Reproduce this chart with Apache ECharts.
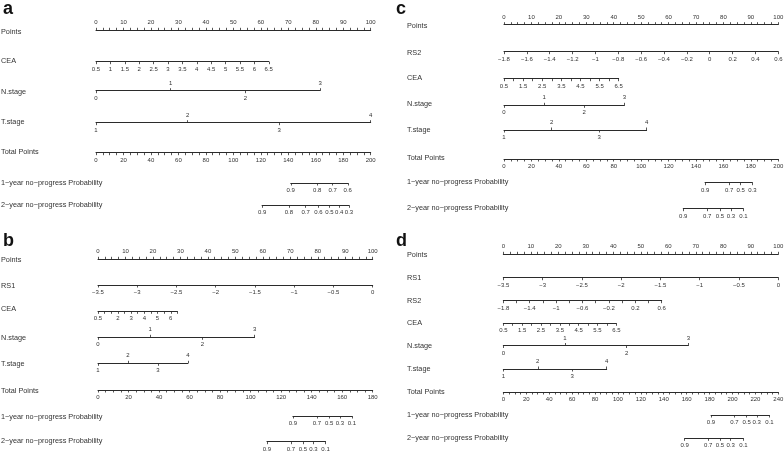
<!DOCTYPE html>
<html><head><meta charset="utf-8">
<script src="https://cdn.jsdelivr.net/npm/echarts@6/dist/echarts.min.js"></script>
<style>html,body{margin:0;padding:0;background:#fff}#c{width:784px;height:454px}</style>
</head><body><div id="c"></div>
<script>
// ---------------- DATA ----------------
const pointsLabels = [0,10,20,30,40,50,60,70,80,90,100];
const ceaTicks = [0.5,1,1.5,2,2.5,3,3.5,4,4.5,5,5.5,6,6.5];
const rs1Labels = [-3.5,-3,-2.5,-2,-1.5,-1,-0.5,0];
const rs2Ticks = [-1.8,-1.6,-1.4,-1.2,-1,-0.8,-0.6,-0.4,-0.2,0,0.2,0.4,0.6];
const nStageBelow = [0,2], nStageAbove = [1,3];
const tStageBelow = [1,3], tStageAbove = [2,4];

// panel a
const aCEALabels = [0.5,1,1.5,2,2.5,3,3.5,4,4.5,5,5.5,6,6.5];
const aCEASpan = [0, 62.9];          // points at CEA 0.5 and 6.5
const aNStageSpan = [0, 81.6];       // points at N.stage 0 and 3
const aTStageSpan = [0, 100];        // points at T.stage 1 and 4
const aTotalLabels = [0,20,40,60,80,100,120,140,160,180,200];
const aYear1Prob = [0.9,0.8,0.7,0.6];
const aYear1Total = [141.8,161.1,172.3,183.3];
const aYear2Prob = [0.9,0.8,0.7,0.6,0.5,0.4,0.3];
const aYear2Total = [120.9,140.4,152.6,161.9,169.9,177.1,184.2];

// panel b
const bRS1Span = [0, 100];
const bCEALabels = [0.5,2,3,4,5,6];
const bCEASpan = [0, 28.9];
const bNStageSpan = [0, 57.0];
const bTStageSpan = [0, 32.7];
const bTotalLabels = [0,20,40,60,80,100,120,140,160,180];
const bYear1Prob = [0.9,0.7,0.5,0.3,0.1];
const bYear1Total = [127.7,143.4,151.4,158.5,166.4];
const bYear2Prob = [0.9,0.7,0.5,0.3,0.1];
const bYear2Total = [110.7,126.4,134.2,141.2,149.1];

// panel c
const cRS2Labels = [-1.8,-1.6,-1.4,-1.2,-1,-0.8,-0.6,-0.4,-0.2,0,0.2,0.4,0.6];
const cRS2Span = [0, 100];
const cCEALabels = [0.5,1.5,2.5,3.5,4.5,5.5,6.5];
const cCEASpan = [0, 41.8];
const cNStageSpan = [0, 43.9];
const cTStageSpan = [0, 52.0];
const cTotalLabels = [0,20,40,60,80,100,120,140,160,180,200];
const cYear1Prob = [0.9,0.7,0.5,0.3];
const cYear1Total = [146.6,164.1,172.6,181.1];
const cYear2Prob = [0.9,0.7,0.5,0.3,0.1];
const cYear2Total = [130.7,148.2,157.5,165.5,174.5];

// panel d
const dRS1Span = [0, 100];
const dRS2Labels = [-1.8,-1.4,-1,-0.6,-0.2,0.2,0.6];
const dRS2Span = [0, 57.6];
const dCEALabels = [0.5,1.5,2.5,3.5,4.5,5.5,6.5];
const dCEASpan = [0, 41.1];
const dNStageSpan = [0, 67.3];
const dTStageSpan = [0, 37.6];
const dTotalLabels = [0,20,40,60,80,100,120,140,160,180,200,220,240];
const dYear1Prob = [0.9,0.7,0.5,0.3,0.1];
const dYear1Total = [181.3,201.6,212.4,221.2,232.2];
const dYear2Prob = [0.9,0.7,0.5,0.3,0.1];
const dYear2Total = [158.3,178.9,189.1,198.4,209.5];

// ---------------- STYLE / LAYOUT ----------------
const FONT = "'Liberation Sans', Arial, Helvetica, sans-serif";
const INK = '#2b2b2b';
const TXT = '#333333';
const POINTS_TICK_STEP = 2.5;
const TOTAL_TICK_STEP = 5;
const Y1 = '1\u2212year no\u2212progress Probability';
const Y2 = '2\u2212year no\u2212progress Probability';

function steps(a, b, s){ const o=[]; const n=Math.round((b-a)/s); for(let i=0;i<=n;i++) o.push(+(a+i*s).toFixed(6)); return o; }
function fmt(v){ const s = String(+(+v).toFixed(3)); return s.replace('-', '\u2212'); }

const panels = [
 { letter:'a', letterX:3, letterTop:0.5, x0:96, x1:370.7, textX:1, totalMax:200, totalLabels:aTotalLabels,
   rows:[
    {type:'points', name:'Points', y:30.3, ty:31.5},
    {type:'linear', name:'CEA', y:61.7, ty:60.7, span:aCEASpan, min:0.5, max:6.5, ticks:ceaTicks, labels:aCEALabels},
    {type:'stage', name:'N.stage', y:90.7, ty:91.5, span:aNStageSpan, min:0, max:3, below:nStageBelow, above:nStageAbove},
    {type:'stage', name:'T.stage', y:122.7, ty:122.3, span:aTStageSpan, min:1, max:4, below:tStageBelow, above:tStageAbove},
    {type:'total', name:'Total Points', y:152.7, ty:152.3},
    {type:'prob', name:Y1, y:183, ty:182.5, pos:aYear1Total, probs:aYear1Prob},
    {type:'prob', name:Y2, y:205.3, ty:204.7, pos:aYear2Total, probs:aYear2Prob}
 ]},
 { letter:'b', letterX:3, letterTop:232, x0:98, x1:372.7, textX:1, totalMax:180, totalLabels:bTotalLabels,
   rows:[
    {type:'points', name:'Points', y:259.3, ty:260.3},
    {type:'linear', name:'RS1', y:285, ty:286, span:bRS1Span, min:-3.5, max:0, ticks:rs1Labels, labels:rs1Labels},
    {type:'linear', name:'CEA', y:311.3, ty:309, span:bCEASpan, min:0.5, max:6.5, ticks:ceaTicks, labels:bCEALabels},
    {type:'stage', name:'N.stage', y:337.3, ty:337.7, span:bNStageSpan, min:0, max:3, below:nStageBelow, above:nStageAbove},
    {type:'stage', name:'T.stage', y:363.3, ty:364, span:bTStageSpan, min:1, max:4, below:tStageBelow, above:tStageAbove},
    {type:'total', name:'Total Points', y:390, ty:391},
    {type:'prob', name:Y1, y:416, ty:416.5, pos:bYear1Total, probs:bYear1Prob},
    {type:'prob', name:Y2, y:441.7, ty:440.7, pos:bYear2Total, probs:bYear2Prob}
 ]},
 { letter:'c', letterX:396, letterTop:0.5, x0:504, x1:778.3, textX:407, totalMax:200, totalLabels:cTotalLabels,
   rows:[
    {type:'points', name:'Points', y:24.7, ty:26},
    {type:'linear', name:'RS2', y:51.7, ty:53, span:cRS2Span, min:-1.8, max:0.6, ticks:rs2Ticks, labels:cRS2Labels},
    {type:'linear', name:'CEA', y:78.7, ty:77.5, span:cCEASpan, min:0.5, max:6.5, ticks:ceaTicks, labels:cCEALabels},
    {type:'stage', name:'N.stage', y:105.3, ty:104, span:cNStageSpan, min:0, max:3, below:nStageBelow, above:nStageAbove},
    {type:'stage', name:'T.stage', y:130, ty:130, span:cTStageSpan, min:1, max:4, below:tStageBelow, above:tStageAbove},
    {type:'total', name:'Total Points', y:159, ty:157.7},
    {type:'prob', name:Y1, y:182.7, ty:182.3, pos:cYear1Total, probs:cYear1Prob},
    {type:'prob', name:Y2, y:208.7, ty:208.3, pos:cYear2Total, probs:cYear2Prob}
 ]},
 { letter:'d', letterX:396, letterTop:232, x0:503.3, x1:778.3, textX:407, totalMax:240, totalLabels:dTotalLabels,
   rows:[
    {type:'points', name:'Points', y:254.3, ty:254.5},
    {type:'linear', name:'RS1', y:277.7, ty:277.7, span:dRS1Span, min:-3.5, max:0, ticks:rs1Labels, labels:rs1Labels},
    {type:'linear', name:'RS2', y:300.7, ty:300.7, span:dRS2Span, min:-1.8, max:0.6, ticks:rs2Ticks, labels:dRS2Labels},
    {type:'linear', name:'CEA', y:323.3, ty:323.3, span:dCEASpan, min:0.5, max:6.5, ticks:ceaTicks, labels:dCEALabels},
    {type:'stage', name:'N.stage', y:345.5, ty:345.5, span:dNStageSpan, min:0, max:3, below:nStageBelow, above:nStageAbove},
    {type:'stage', name:'T.stage', y:369, ty:369, span:dTStageSpan, min:1, max:4, below:tStageBelow, above:tStageAbove},
    {type:'total', name:'Total Points', y:392, ty:392.3},
    {type:'prob', name:Y1, y:415, ty:414.5, pos:dYear1Total, probs:dYear1Prob},
    {type:'prob', name:Y2, y:438.3, ty:437.7, pos:dYear2Total, probs:dYear2Prob}
 ]}
];

const chart = echarts.init(document.getElementById('c'), null, {renderer:'canvas', width:784, height:454});

function axis(id, gi, min, max, position, ticks, labels, formatter, showLine){
  return {
    id, gridIndex:gi, type:'value', min, max, position,
    axisLine:{show:showLine !== false, onZero:false, lineStyle:{color:INK, width:1}},
    axisTick:{show:true, inside:false, length:2.5, customValues:ticks, lineStyle:{color:INK, width:0.8}},
    axisLabel:{show:true, customValues:labels, fontSize:6, fontFamily:FONT, color:TXT, margin:4.5,
               formatter: formatter || fmt, hideOverlap:false},
    splitLine:{show:false}, splitArea:{show:false}
  };
}

function toPx(id, v, p, max){
  let px;
  try { px = chart.convertToPixel({xAxisId:id}, v); } catch(e) {}
  if (Array.isArray(px)) px = px[0];
  if (typeof px !== 'number' || !isFinite(px)) px = p.x0 + v / max * (p.x1 - p.x0);
  return px;
}

function build(full){
  const opt = {animation:false, backgroundColor:'#ffffff', grid:[], xAxis:[], yAxis:[], graphic:[]};
  panels.forEach((p, pi) => {
    opt.graphic.push({type:'text', x:p.letterX, y:p.letterTop, silent:true,
      style:{text:p.letter, font:'bold 18px ' + FONT, fill:'#111', verticalAlign:'top', textVerticalAlign:'top'}});
    p.rows.forEach((r, ri) => {
      opt.graphic.push({type:'text', x:p.textX, y:r.ty, silent:true,
        style:{text:r.name, font:'7.3px ' + FONT, fill:TXT, verticalAlign:'middle', textVerticalAlign:'middle', align:'left'}});
      let left, width;
      if (r.type === 'points' || r.type === 'total') { left = p.x0; width = p.x1 - p.x0; }
      else {
        if (!full) return;
        const refId = r.type === 'prob' ? 'total' + pi : 'points' + pi;
        const refMax = r.type === 'prob' ? p.totalMax : 100;
        const span = r.type === 'prob' ? [r.pos[0], r.pos[r.pos.length - 1]] : r.span;
        const xa = toPx(refId, span[0], p, refMax), xb = toPx(refId, span[1], p, refMax);
        left = xa; width = xb - xa;
      }
      const gi = opt.grid.length;
      opt.grid.push({left, top:r.y, width, height:0, containLabel:false, outerBoundsMode:'none', show:false});
      opt.yAxis.push({gridIndex:gi, type:'value', show:false, min:0, max:1});
      if (r.type === 'points') {
        opt.xAxis.push(axis('points' + pi, gi, 0, 100, 'top', steps(0, 100, POINTS_TICK_STEP), pointsLabels));
      } else if (r.type === 'total') {
        opt.xAxis.push(axis('total' + pi, gi, 0, p.totalMax, 'bottom', steps(0, p.totalMax, TOTAL_TICK_STEP), p.totalLabels));
      } else if (r.type === 'linear') {
        opt.xAxis.push(axis('r' + pi + '_' + ri, gi, r.min, r.max, 'bottom', r.ticks, r.labels));
      } else if (r.type === 'stage') {
        opt.xAxis.push(axis('r' + pi + '_' + ri + 'b', gi, r.min, r.max, 'bottom', r.below, r.below));
        opt.xAxis.push(axis('r' + pi + '_' + ri + 't', gi, r.min, r.max, 'top', r.above, r.above, null, false));
      } else if (r.type === 'prob') {
        const f = v => { let bi = 0, bd = Infinity; r.pos.forEach((q, i) => { const d = Math.abs(q - v); if (d < bd) { bd = d; bi = i; } }); return fmt(r.probs[bi]); };
        opt.xAxis.push(axis('r' + pi + '_' + ri, gi, r.pos[0], r.pos[r.pos.length - 1], 'bottom', r.pos, r.pos, f));
      }
    });
  });
  return opt;
}

chart.setOption(build(false), true);
chart.setOption(build(true), true);
</script>
</body></html>
